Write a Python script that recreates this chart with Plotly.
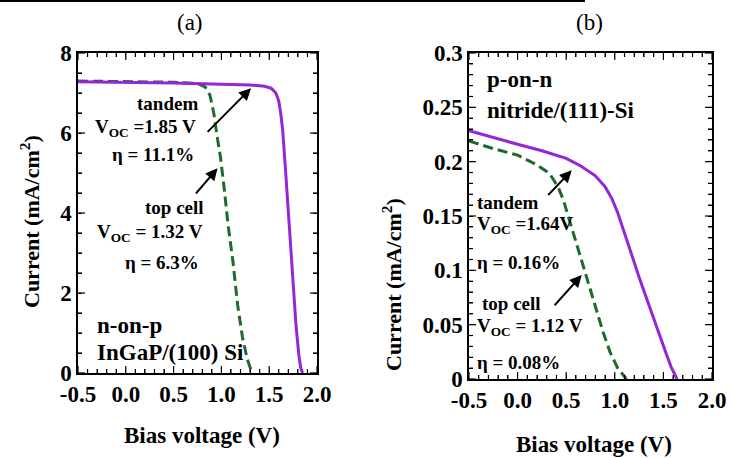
import plotly.graph_objects as go

W, H = 734, 458

# ---- (a) n-on-p InGaP/(100) Si ----
a_tandem_v = [-0.5, 0.0, 0.5, 1.0, 1.3, 1.45, 1.52, 1.57, 1.60, 1.62, 1.64, 1.67, 1.71, 1.75, 1.78, 1.81, 1.83, 1.85]
a_tandem_j = [7.28, 7.27, 7.25, 7.22, 7.20, 7.17, 7.12, 7.00, 6.80, 6.50, 6.10, 5.10, 3.70, 2.30, 1.20, 0.45, 0.12, 0.0]
a_top_v = [-0.5, 0.0, 0.5, 0.75, 0.83, 0.88, 0.92, 0.95, 0.99, 1.03, 1.07, 1.12, 1.17, 1.22, 1.27, 1.32]
a_top_j = [7.30, 7.29, 7.27, 7.24, 7.15, 6.95, 6.50, 6.00, 5.40, 4.60, 3.70, 2.80, 1.70, 0.90, 0.35, 0.0]

# ---- (b) p-on-n nitride/(111)-Si ----
b_tandem_v = [-0.5, -0.25, 0.0, 0.25, 0.5, 0.65, 0.8, 0.9, 0.97, 1.03, 1.1, 1.19, 1.26, 1.33, 1.40, 1.47, 1.53, 1.58, 1.64]
b_tandem_j = [0.2285, 0.222, 0.216, 0.210, 0.203, 0.196, 0.187, 0.177, 0.166, 0.153, 0.135, 0.110, 0.091, 0.073, 0.055, 0.038, 0.023, 0.011, 0.0]
b_top_v = [-0.5, -0.25, 0.0, 0.2, 0.33, 0.42, 0.47, 0.52, 0.57, 0.62, 0.68, 0.78, 0.88, 0.95, 1.03, 1.12]
b_top_j = [0.219, 0.212, 0.206, 0.197, 0.189, 0.176, 0.165, 0.150, 0.134, 0.119, 0.102, 0.073, 0.043, 0.025, 0.010, 0.0]

# labelled ticks
x_ticks = [-0.5, 0.0, 0.5, 1.0, 1.5, 2.0]
x_ticktext = ["-0.5", "0.0", "0.5", "1.0", "1.5", "2.0"]
a_y_ticks = [0, 2, 4, 6, 8]
a_y_ticktext = ["0", "2", "4", "6", "8"]
b_y_ticks = [0, 0.05, 0.1, 0.15, 0.2, 0.25, 0.3]
b_y_ticktext = ["0", "0.05", "0.1", "0.15", "0.2", "0.25", "0.3"]

# unlabelled minor tick spacing: (start, stop, step)
x_minor = (-0.5, 2.0, 0.1)
a_y_minor = (0.0, 8.0, 0.5)
b_y_minor = (0.0, 0.3, 0.01)

PURPLE = "#9526d6"
GREEN = "#1d6a2a"
SERIF = "Liberation Serif"

# plot-area boxes in page pixels: left, right, top, bottom
BOX_A = (78, 317, 53, 373)
BOX_B = (469, 712, 53, 379)
X_RANGE = (-0.5, 2.0)
A_Y_RANGE = (0.0, 8.0)
B_Y_RANGE = (0.0, 0.3)
MAJOR_LEN, MINOR_LEN = 7, 4


def px(x):
    return x / W


def py(y):
    return 1 - y / H


def tick_arrays(major_vals, major_text, spec, nd):
    """Merge labelled ticks with unlabelled minor ones into one tick list."""
    start, stop, step = spec
    n = int(round((stop - start) / step))
    vals, texts = [], []
    labels = {round(v, nd): t for v, t in zip(major_vals, major_text)}
    for i in range(n + 1):
        v = round(start + i * step, nd)
        vals.append(v)
        texts.append(labels.get(v, ""))
    return vals, texts


fig = go.Figure()

fig.add_trace(go.Scatter(x=a_top_v, y=a_top_j, mode="lines", xaxis="x", yaxis="y",
                         line=dict(color=GREEN, width=3, dash="10px,5px")))
fig.add_trace(go.Scatter(x=a_tandem_v, y=a_tandem_j, mode="lines", xaxis="x", yaxis="y",
                         line=dict(color=PURPLE, width=3)))
fig.add_trace(go.Scatter(x=b_top_v, y=b_top_j, mode="lines", xaxis="x2", yaxis="y2",
                         line=dict(color=GREEN, width=3, dash="10px,5px")))
fig.add_trace(go.Scatter(x=b_tandem_v, y=b_tandem_j, mode="lines", xaxis="x2", yaxis="y2",
                         line=dict(color=PURPLE, width=3)))

tickfont = dict(family=SERIF, size=23, color="black", weight="bold")


def axis_common(vals, texts, **kw):
    d = dict(showline=True, linecolor="black", linewidth=1.5, mirror="allticks",
             ticks="inside", tickcolor="black", tickwidth=1.2, ticklen=MINOR_LEN, showgrid=False,
             zeroline=False, tickfont=tickfont, fixedrange=True, automargin=False,
             tickmode="array", tickvals=vals, ticktext=texts)
    d.update(kw)
    return d


xv, xt = tick_arrays(x_ticks, x_ticktext, x_minor, 2)
ayv, ayt = tick_arrays(a_y_ticks, a_y_ticktext, a_y_minor, 2)
byv, byt = tick_arrays(b_y_ticks, b_y_ticktext, b_y_minor, 3)

fig.update_layout(
    width=W, height=H, margin=dict(l=0, r=0, t=0, b=0, autoexpand=False),
    paper_bgcolor="white", plot_bgcolor="white", showlegend=False,
    xaxis=axis_common(xv, xt, domain=[px(BOX_A[0]), px(BOX_A[1])], anchor="y", range=list(X_RANGE)),
    yaxis=axis_common(ayv, ayt, domain=[py(BOX_A[3]), py(BOX_A[2])], anchor="x", range=list(A_Y_RANGE)),
    xaxis2=axis_common(xv, xt, domain=[px(BOX_B[0]), px(BOX_B[1])], anchor="y2", range=list(X_RANGE)),
    yaxis2=axis_common(byv, byt, domain=[py(BOX_B[3]), py(BOX_B[2])], anchor="x2", range=list(B_Y_RANGE)),
)

# tick marks on all four sides of each frame, in data units (major ticks longer)
shapes = []


def frame_ticks(xr, yr, box, xrange, yrange, xvals, xtexts, yvals, ytexts):
    w = box[1] - box[0]
    h = box[3] - box[2]
    xs = (xrange[1] - xrange[0]) / w  # data units per pixel
    ys = (yrange[1] - yrange[0]) / h
    tick_line = dict(color="black", width=1.2)
    for v, t in zip(xvals, xtexts):
        d = (MAJOR_LEN if t else MINOR_LEN) * ys
        for y0, y1 in ((yrange[0], yrange[0] + d), (yrange[1] - d, yrange[1])):
            shapes.append(dict(type="line", xref=xr, yref=yr, x0=v, x1=v,
                               y0=y0, y1=y1, line=tick_line, layer="above"))
    for v, t in zip(yvals, ytexts):
        d = (MAJOR_LEN if t else MINOR_LEN) * xs
        for x0, x1 in ((xrange[0], xrange[0] + d), (xrange[1] - d, xrange[1])):
            shapes.append(dict(type="line", xref=xr, yref=yr, x0=x0, x1=x1,
                               y0=v, y1=v, line=tick_line, layer="above"))


frame_ticks("x", "y", BOX_A, X_RANGE, A_Y_RANGE, xv, xt, ayv, ayt)
frame_ticks("x2", "y2", BOX_B, X_RANGE, B_Y_RANGE, xv, xt, byv, byt)

# rule across the top of the page
shapes.append(dict(type="line", xref="paper", yref="paper", x0=0, x1=px(585), y0=py(1), y1=py(1),
                   line=dict(color="black", width=2)))

ann = []


def text(x, y, s, size=19, bold=True, xanchor="left", angle=0):
    ann.append(dict(x=px(x), y=py(y), xref="paper", yref="paper", text=s, showarrow=False,
                    xanchor=xanchor, yanchor="middle", textangle=angle,
                    font=dict(family=SERIF, size=size, color="black",
                              weight="bold" if bold else "normal")))


def arrow(xr, yr, tail, head):
    ann.append(dict(x=head[0], y=head[1], ax=tail[0], ay=tail[1], xref=xr, yref=yr,
                    axref=xr, ayref=yr, text="", showarrow=True, arrowhead=2,
                    arrowsize=1.2, arrowwidth=2, arrowcolor="black"))


# panel labels and axis titles
text(190, 23, "(a)", size=23, bold=False, xanchor="center")
text(589, 23, "(b)", size=23, bold=False, xanchor="center")
text(30, 222, "Current (mA/cm<sup>2</sup>)", size=22, xanchor="center", angle=-90)
text(392, 285, "Current (mA/cm<sup>2</sup>)", size=22, xanchor="center", angle=-90)
text(202, 435, "Bias voltage (V)", size=23, xanchor="center")
text(594, 444, "Bias voltage (V)", size=23, xanchor="center")

# panel (a) notes
text(167, 103, "tandem", xanchor="center")
text(93, 128, "V<sub>OC</sub> =1.85 V")
text(110, 155, "\u03b7 = 11.1%")
text(174, 208, "top cell", xanchor="center")
text(95, 233, "V<sub>OC</sub> = 1.32 V")
text(123, 262, "\u03b7 = 6.3%")
text(95, 325, "n-on-p", size=23)
text(95, 352, "InGaP/(100) Si", size=23)
arrow("x", "y", (0.84, 5.99), (1.31, 7.12))
arrow("x", "y", (0.72, 4.45), (0.96, 5.12))

# panel (b) notes
text(485, 80, "p-on-n", size=23)
text(485, 110, "nitride/(111)-Si", size=23)
text(475, 202, "tandem")
text(475, 225, "V<sub>OC</sub> =1.64V")
text(475, 262, "\u03b7 = 0.16%")
text(480, 303, "top cell")
text(475, 327, "V<sub>OC</sub> = 1.12 V")
text(475, 362, "\u03b7 = 0.08%")
arrow("x2", "y2", (0.30, 0.168), (0.557, 0.192))
arrow("x2", "y2", (0.367, 0.0665), (0.66, 0.0957))

fig.update_layout(annotations=ann, shapes=shapes)

fig.write_html("out.html")
